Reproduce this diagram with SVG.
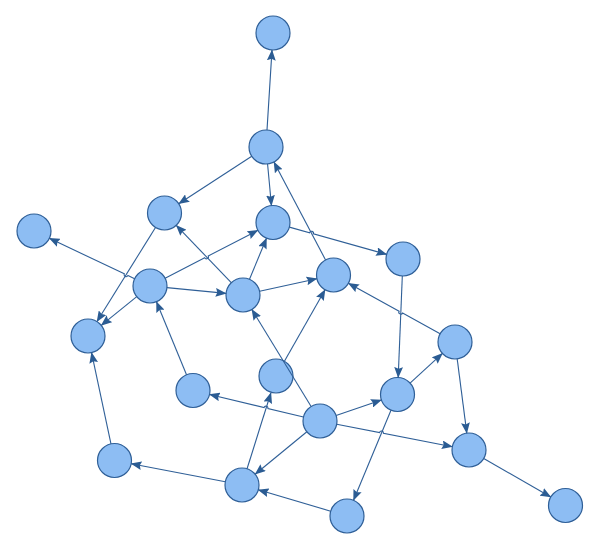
<svg xmlns="http://www.w3.org/2000/svg" width="600" height="550" viewBox="0 0 600 550">
<style>
.n{fill:#8DBDF3;stroke:#2F5F97;stroke-width:1.2}
.e{fill:none;stroke:#2F5F97;stroke-width:1.1;marker-end:url(#ah)}
</style>
<defs>
<marker id="ah" markerUnits="userSpaceOnUse" markerWidth="11" markerHeight="8.8" viewBox="0 0 10 8" refX="9.5" refY="4" orient="auto">
<path d="M0,0 L10,4 L0,8 L1.5,4 Z" fill="#2B5C93"/>
</marker>
</defs>
<rect width="600" height="550" fill="#ffffff"/>
<g id="nodes">
<g id="n1"><circle class="n" cx="273" cy="33" r="17"/></g>
<g id="n2"><circle class="n" cx="266" cy="147" r="17"/></g>
<g id="n3"><circle class="n" cx="164.5" cy="213" r="17"/></g>
<g id="n4"><circle class="n" cx="273" cy="222.5" r="17"/></g>
<g id="n5"><circle class="n" cx="34" cy="231" r="17"/></g>
<g id="n6"><circle class="n" cx="403" cy="259" r="17"/></g>
<g id="n7"><circle class="n" cx="150" cy="286" r="17"/></g>
<g id="n8"><circle class="n" cx="243" cy="295" r="17"/></g>
<g id="n9"><circle class="n" cx="333.5" cy="275" r="17"/></g>
<g id="n10"><circle class="n" cx="88" cy="336" r="17"/></g>
<g id="n11"><circle class="n" cx="455" cy="342" r="17"/></g>
<g id="n12"><circle class="n" cx="193" cy="390.5" r="17"/></g>
<g id="n13"><circle class="n" cx="276" cy="376" r="17"/></g>
<g id="n14"><circle class="n" cx="397.5" cy="394.5" r="17"/></g>
<g id="n15"><circle class="n" cx="320" cy="421" r="17"/></g>
<g id="n16"><circle class="n" cx="469" cy="450" r="17"/></g>
<g id="n17"><circle class="n" cx="114.5" cy="460.5" r="17"/></g>
<g id="n18"><circle class="n" cx="242" cy="485" r="17"/></g>
<g id="n19"><circle class="n" cx="347" cy="516" r="17"/></g>
<g id="n20"><circle class="n" cx="565.5" cy="505.5" r="17"/></g>
</g>
<g id="connectors">
<path class="e" d="M267,130 L272,50"/>
<path class="e" d="M251.75,156.27 L178.75,203.73"/>
<path class="e" d="M267.57,163.93 L271.43,205.57"/>
<path class="e" d="M155.52,227.44 L96.98,321.56"/>
<path class="e" d="M134.64,278.72 L127.94,275.54 A2,2 0 0 1 124.32,273.82 L49.36,238.28"/>
<path class="e" d="M165.11,278.2 L204.69,257.77 A2,2 0 0 0 208.25,255.93 L257.89,230.3"/>
<path class="e" d="M166.92,287.64 L226.08,293.36"/>
<path class="e" d="M136.77,296.67 L101.23,325.33"/>
<path class="e" d="M231.24,282.72 L176.26,225.28"/>
<path class="e" d="M249.5,279.29 L266.5,238.21"/>
<path class="e" d="M259.6,291.33 L316.9,278.67"/>
<path class="e" d="M289.37,227.1 L309.59,232.78 A2,2 0 0 1 313.45,233.86 L386.63,254.4"/>
<path class="e" d="M325.57,259.96 L273.93,162.04"/>
<path class="e" d="M402.31,275.99 L398.19,377.51"/>
<path class="e" d="M440.11,333.79 L402.6,313.11 A2,2 0 0 1 399.1,311.17 L348.39,283.21"/>
<path class="e" d="M410.05,383.04 L442.45,353.46"/>
<path class="e" d="M457.19,358.86 L466.81,433.14"/>
<path class="e" d="M483.74,458.48 L550.76,497.02"/>
<path class="e" d="M336.08,415.5 L381.42,400"/>
<path class="e" d="M336.69,424.25 L379.55,432.59 A2,2 0 0 1 383.47,433.35 L452.31,446.75"/>
<path class="e" d="M303.47,417.03 L267.94,408.5 A2,2 0 0 0 264.06,407.56 L209.53,394.47"/>
<path class="e" d="M311.14,406.49 L251.86,309.51"/>
<path class="e" d="M306.86,431.78 L255.14,474.22"/>
<path class="e" d="M284.41,361.23 L325.09,289.77"/>
<path class="e" d="M186.53,374.78 L156.47,301.72"/>
<path class="e" d="M110.96,443.87 L91.54,352.63"/>
<path class="e" d="M225.31,481.79 L131.19,463.71"/>
<path class="e" d="M247.06,468.77 L270.94,392.77"/>
<path class="e" d="M330.7,511.19 L258.3,489.81"/>
<path class="e" d="M390.98,410.2 L353.52,500.3"/>
</g>
</svg>
